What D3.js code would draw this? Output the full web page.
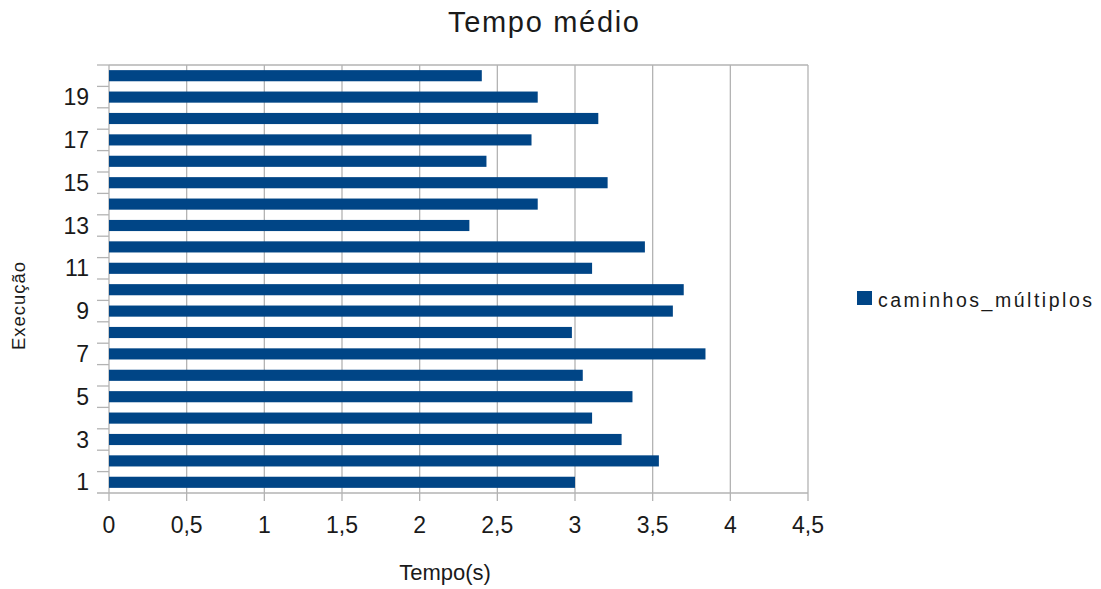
<!DOCTYPE html>
<html><head><meta charset="utf-8">
<script src="https://cdn.jsdelivr.net/npm/d3@7"></script>
<style>body{margin:0;background:#fff}svg{display:block;font-family:"Liberation Sans",Arial,sans-serif}</style>
</head><body>
<script>
const categories = d3.range(1, 21).map(String);
const values = [3.00, 3.54, 3.30, 3.11, 3.37, 3.05, 3.84, 2.98, 3.63, 3.70,
                3.11, 3.45, 2.32, 2.76, 3.21, 2.43, 2.72, 3.15, 2.76, 2.40];
const xTicks = [0, 0.5, 1, 1.5, 2, 2.5, 3, 3.5, 4, 4.5];
const xTickLabels = ["0", "0,5", "1", "1,5", "2", "2,5", "3", "3,5", "4", "4,5"];
const seriesName = "caminhos_múltiplos";

const W = 1101, H = 589;
const m = {left: 109, right: 808, top: 65, bottom: 493};
const svg = d3.select("body").append("svg").attr("width", W).attr("height", H);

const x = d3.scaleLinear().domain([0, 4.5]).range([m.left, m.right]);
const y = d3.scaleBand().domain(categories.slice().reverse()).range([m.top, m.bottom]).paddingInner(0.48).paddingOuter(0.24);
const band = d3.scaleBand().domain(categories.slice().reverse()).range([m.top, m.bottom]);

const grid = "#b3b3b3";
const txt = "#1a1a1a";
// vertical gridlines
svg.append("g").selectAll("line").data(xTicks).join("line")
  .attr("x1", d => x(d)).attr("x2", d => x(d)).attr("y1", m.top).attr("y2", m.bottom + 8)
  .attr("stroke", grid).attr("stroke-width", 1.3);
// top and bottom lines
svg.append("line").attr("x1", m.left).attr("x2", m.right).attr("y1", m.top).attr("y2", m.top).attr("stroke", grid).attr("stroke-width", 1.3);
svg.append("line").attr("x1", m.left - 12).attr("x2", m.right).attr("y1", m.bottom).attr("y2", m.bottom).attr("stroke", grid).attr("stroke-width", 1.3);
// y ticks at band boundaries
const bounds = categories.map(c => band(c));
svg.append("g").selectAll("line").data(bounds).join("line")
  .attr("x1", m.left - 12).attr("x2", m.left).attr("y1", d => d).attr("y2", d => d)
  .attr("stroke", grid).attr("stroke-width", 1.3);

// bars
svg.append("g").selectAll("rect").data(values).join("rect")
  .attr("x", x(0)).attr("y", (d, i) => y(categories[i]))
  .attr("width", d => x(d) - x(0)).attr("height", y.bandwidth())
  .attr("fill", "#004586");

// x tick labels
svg.append("g").selectAll("text").data(xTicks).join("text")
  .attr("x", d => x(d)).attr("y", 533).attr("text-anchor", "middle")
  .attr("font-size", 23).attr("fill", txt).text((d, i) => xTickLabels[i]);
// y tick labels (odd)
svg.append("g").selectAll("text").data(categories.filter((c, i) => i % 2 === 0)).join("text")
  .attr("x", 89).attr("y", c => band(c) + band.bandwidth() / 2 + 8).attr("text-anchor", "end")
  .attr("font-size", 23).attr("fill", txt).text(c => c);

// title
svg.append("text").attr("x", 448).attr("y", 32).attr("font-size", 29)
  .attr("textLength", 191).attr("lengthAdjust", "spacing").attr("fill", txt).text("Tempo médio");
svg.append("text").attr("x", 445).attr("y", 580).attr("text-anchor", "middle").attr("font-size", 22).attr("fill", txt).text("Tempo(s)");
svg.append("text").attr("transform", "translate(25,350) rotate(-90)").attr("font-size", 18.5)
  .attr("textLength", 88).attr("lengthAdjust", "spacing").attr("fill", txt).text("Execução");

// legend
svg.append("rect").attr("x", 857).attr("y", 291).attr("width", 15).attr("height", 14).attr("fill", "#004586");
svg.append("text").attr("x", 878).attr("y", 307).attr("font-size", 19.5)
  .attr("textLength", 214).attr("lengthAdjust", "spacing").attr("fill", txt).text(seriesName);
</script>
</body></html>
